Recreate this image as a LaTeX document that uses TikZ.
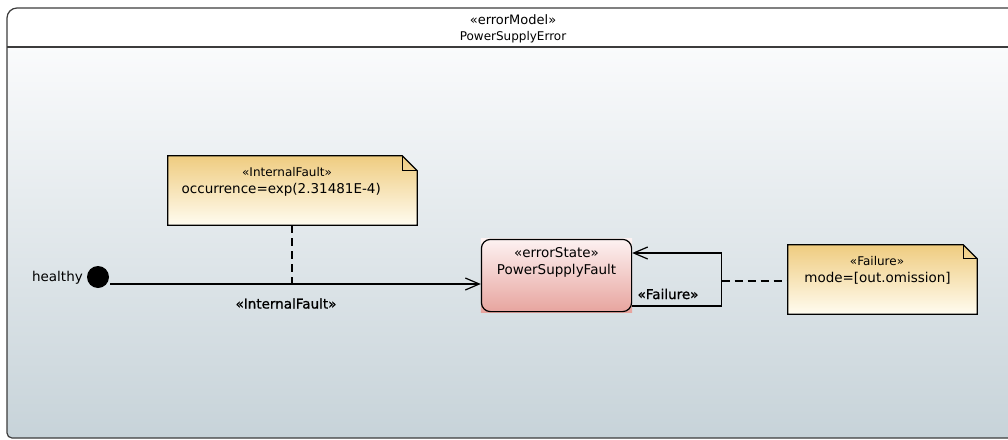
\documentclass[tikz,border=0pt]{standalone}
\usepackage{fontspec}
\setmainfont{DejaVu Sans}
\newfontfamily\semibold[FakeBold=1]{DejaVu Sans}
\usetikzlibrary{arrows.meta}

\definecolor{framecol}{RGB}{60,60,60}
\definecolor{bgbottom}{RGB}{199,211,217}
\definecolor{bgtop}{RGB}{250,251,252}
\definecolor{notetop}{RGB}{239,204,128}
\definecolor{notebottom}{RGB}{255,252,240}
\definecolor{statetop}{RGB}{253,242,242}
\definecolor{statebottom}{RGB}{231,164,158}

\tikzset{
  x=1pt, y=-1pt,
  txt/.style={inner sep=0pt, font=\fontsize{13.5}{15}\selectfont},
  stereo/.style={inner sep=0pt, font=\fontsize{12}{14}\selectfont},
  edgelabel/.style={inner sep=0pt, font=\semibold\fontsize{13.5}{15}\selectfont},
  conn/.style={line width=1.2pt, black},
  anchorline/.style={line width=1.2pt, black, dash pattern=on 8pt off 5pt},
  openarrow/.style={-{Straight Barb[length=14pt,width=12pt,line width=1.2pt]}},
  box/.style={draw=none, inner sep=0pt},
}

\begin{document}
\begin{tikzpicture}
\useasboundingbox (0,0) rectangle (1008,439);

% ---- frame of the error model ----
\begin{scope}
  \clip (1019,8) -- (17,8) arc[start angle=90,end angle=180,radius=10pt]
        -- (7,433) arc[start angle=180,end angle=270,radius=5pt] -- (1019,438) -- cycle;
  \fill[white] (7,8) rectangle (1019,47);
  \shade[top color=bgtop, bottom color=bgbottom] (7,47) rectangle (1019,438);
\end{scope}
\draw[framecol, line width=1.2pt]
  (1019,8) -- (17,8) arc[start angle=90,end angle=180,radius=10pt]
  -- (7,433) arc[start angle=180,end angle=270,radius=5pt] -- (1019,438);
\draw[framecol, line width=1.2pt] (7,47) -- (1019,47);
\node[stereo, font=\fontsize{13}{14}\selectfont] (mstereo) at (513,20) {«errorModel»};
\node[stereo] (mname) at (513,37) {PowerSupplyError};

% ---- initial state ----
\node[circle, fill=black, minimum size=22pt, inner sep=0pt] (init) at (98,277) {};
\node[txt, anchor=east] (initlbl) at (83,278) {healthy};

% ---- error state ----
\node[box, minimum width=151pt, minimum height=73pt] (st) at (556.5,275.5) {};
\shade[top color=statetop, bottom color=statebottom] (st.north west) rectangle (st.south east);
\draw[line width=1.2pt, rounded corners=9pt] ([xshift=0.6pt,yshift=-0.6pt]st.north west) rectangle ([xshift=-0.6pt,yshift=0.6pt]st.south east);
\node[stereo, font=\fontsize{13.5}{15}\selectfont] (ststereo) at (556.5,253) {«errorState»};
\node[txt] (stname) at (556.5,271) {PowerSupplyFault};

% ---- note: occurrence ----
\node[box, minimum width=249pt, minimum height=69pt] (n1) at (292.5,190.5) {};
\shade[top color=notetop, bottom color=notebottom]
  (n1.north west) -- ([xshift=-15pt]n1.north east) -- ([yshift=-15pt]n1.north east)
  -- (n1.south east) -- (n1.south west) -- cycle;
\draw[line width=1.2pt, line join=miter]
  (n1.north west) -- ([xshift=-15pt]n1.north east) -- ([yshift=-15pt]n1.north east)
  -- (n1.south east) -- (n1.south west) -- cycle;
\draw[line width=1.2pt] ([xshift=-15pt]n1.north east) |- ([yshift=-15pt]n1.north east);
\node[stereo] (n1stereo) at (287,172) {«InternalFault»};
\node[txt, anchor=west] (n1text) at (181.5,190) {occurrence=exp(2.31481E-4)};

% ---- note: failure mode ----
\node[box, minimum width=189pt, minimum height=69pt] (n2) at (882.5,279.5) {};
\shade[top color=notetop, bottom color=notebottom]
  (n2.north west) -- ([xshift=-14pt]n2.north east) -- ([yshift=-14pt]n2.north east)
  -- (n2.south east) -- (n2.south west) -- cycle;
\draw[line width=1.2pt, line join=miter]
  (n2.north west) -- ([xshift=-14pt]n2.north east) -- ([yshift=-14pt]n2.north east)
  -- (n2.south east) -- (n2.south west) -- cycle;
\draw[line width=1.2pt] ([xshift=-14pt]n2.north east) |- ([yshift=-14pt]n2.north east);
\node[stereo] (n2stereo) at (877,261) {«Failure»};
\node[txt] (n2text) at (877.5,278) {mode=[out.omission]};

% ---- transitions ----
\draw[conn, openarrow] ([xshift=1pt,yshift=-7pt]init.east) -- ([yshift=-8.5pt]st.west);
\coordinate (t1mid) at (292,284);
\node[edgelabel] (t1lbl) at (286,303.5) {«InternalFault»};

\coordinate (loopx) at (721.5,280);
\draw[conn, openarrow] ([yshift=-30.5pt]st.east) -| (loopx) |- ([yshift=22.5pt]st.east);
\coordinate (t2mid) at (721.5,281);
\node[edgelabel] (t2lbl) at (668,294) {«Failure»};

% ---- note anchors ----
\draw[anchorline] ([xshift=-0.5pt]n1.south) -- (t1mid);
\draw[anchorline] (t2mid) -- (n2.west |- t2mid);
\end{tikzpicture}
\end{document}
